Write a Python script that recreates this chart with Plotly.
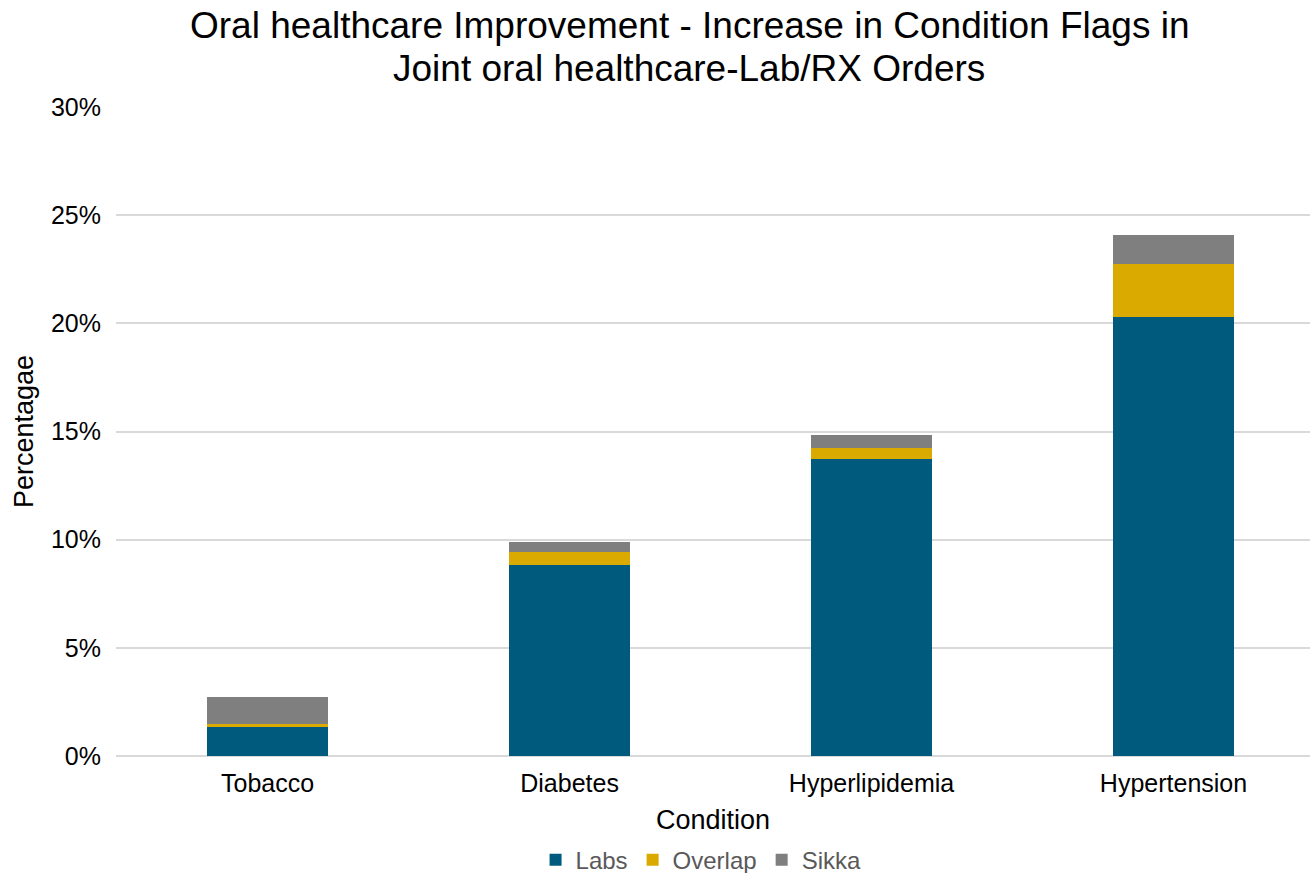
import plotly.graph_objects as go

categories = ["Tobacco", "Diabetes", "Hyperlipidemia", "Hypertension"]
labs = [1.35, 8.85, 13.74, 20.31]
overlap = [0.11, 0.57, 0.50, 2.44]
sikka = [1.27, 0.47, 0.60, 1.32]
title_lines = ["Oral healthcare Improvement - Increase in Condition Flags in",
               "Joint oral healthcare-Lab/RX Orders"]

colors = {"Labs": "#005A7D", "Overlap": "#DAAA00", "Sikka": "#7F7F7F"}

fig = go.Figure()
for name, vals in [("Labs", labs), ("Overlap", overlap), ("Sikka", sikka)]:
    fig.add_trace(go.Bar(x=categories, y=vals, name=name, width=0.4,
                         marker=dict(color=colors[name], line=dict(width=0))))

font_family = "Liberation Sans, Arial, sans-serif"
fig.update_layout(
    barmode="stack",
    width=1314, height=873,
    paper_bgcolor="white", plot_bgcolor="white",
    margin=dict(l=116, r=4, t=107, b=117, autoexpand=False),
    font=dict(family=font_family, color="#000000"),
    xaxis=dict(title=dict(text="Condition", font=dict(size=27), standoff=14),
               tickfont=dict(size=25), showgrid=False, showline=False, ticks="",
               ticklabelstandoff=10, range=[-0.502, 3.452]),
    yaxis=dict(title=dict(text="Percentagae", font=dict(size=27), standoff=9),
               range=[0, 30], dtick=5, ticksuffix="%", tickfont=dict(size=25),
               showgrid=True, gridcolor="#D9D9D9", gridwidth=1.5,
               zeroline=True, zerolinecolor="#D9D9D9", zerolinewidth=1.5,
               showline=False, ticks="", ticklabelstandoff=14),
    legend=dict(orientation="h", x=0.49, xanchor="center", y=-0.126, yanchor="top",
                font=dict(size=24, color="#595959"), itemwidth=30, traceorder="normal"),
    annotations=[
        dict(text=title_lines[0], xref="paper", yref="paper", x=0.48, y=1.0,
             yanchor="middle", xanchor="center", showarrow=False, yshift=82,
             font=dict(size=37, color="#000000", family=font_family)),
        dict(text=title_lines[1], xref="paper", yref="paper", x=0.48, y=1.0,
             yanchor="middle", xanchor="center", showarrow=False, yshift=39,
             font=dict(size=37, color="#000000", family=font_family)),
    ],
)

fig.write_html("out.html")
